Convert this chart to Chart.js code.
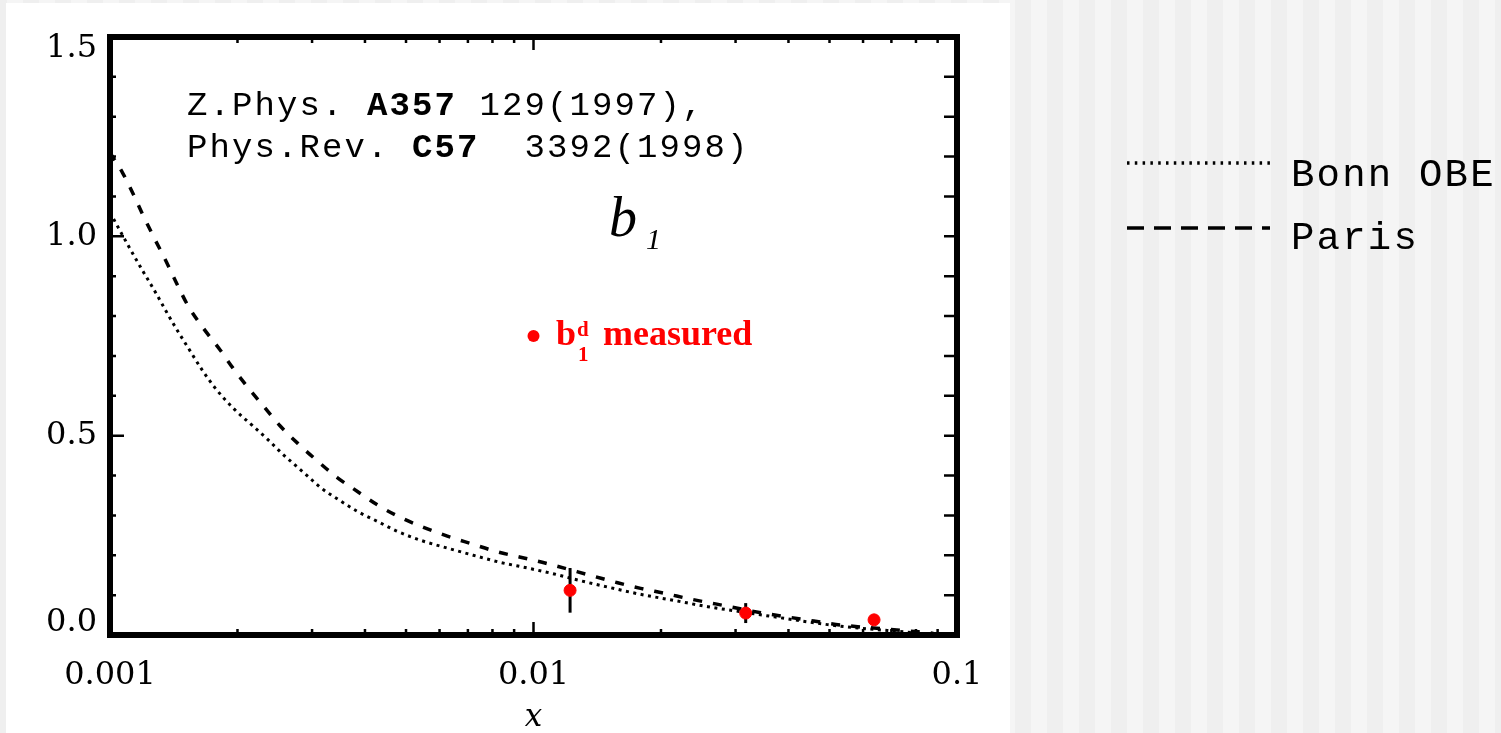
<!DOCTYPE html>
<html>
<head>
<meta charset="utf-8">
<title>b1 deuteron</title>
<script src="https://cdn.jsdelivr.net/npm/chart.js@4.4.1/dist/chart.umd.min.js"></script>
<style>
  html, body { margin: 0; padding: 0; }
  body {
    width: 1501px; height: 733px; overflow: hidden; position: relative;
    background: repeating-linear-gradient(90deg, #f5f5f5 0 16px, #efefef 16px 32px);
    background-position: 7px 0;
  }
  #panel { position: absolute; left: 6px; top: 3px; width: 1004px; height: 730px; background: #fff; }
  #plot { position: absolute; left: 0; top: 0; }
</style>
</head>
<body>
<div id="panel"></div>
<canvas id="plot" width="1501" height="733"></canvas>
<script>
// values (x is Bjorken x, log axis)
const bonnX = [0.001, 0.0011, 0.0012, 0.00128, 0.00136, 0.00144, 0.00152, 0.00165, 0.00177, 0.00195,
  0.00217, 0.00236, 0.00255, 0.00271, 0.00292, 0.00314, 0.00346, 0.00384, 0.00428, 0.00477,
  0.0054, 0.00626, 0.00721, 0.00836, 0.00968, 0.0112, 0.0127, 0.015, 0.0179, 0.0214,
  0.0258, 0.0297, 0.0384, 0.0495, 0.0593, 0.0766, 0.085];
const bonnY = [1.06, 0.98, 0.91, 0.86, 0.81, 0.765, 0.725, 0.665, 0.62, 0.57,
  0.525, 0.49, 0.455, 0.43, 0.40, 0.37, 0.34, 0.31, 0.285, 0.26,
  0.238, 0.218, 0.20, 0.182, 0.168, 0.153, 0.138, 0.12, 0.102, 0.087,
  0.071, 0.061, 0.043, 0.026, 0.017, 0.007, 0.003];

const parisX = [0.001, 0.00107, 0.00113, 0.0012, 0.00128, 0.00136, 0.00144, 0.00153, 0.00166, 0.00182,
  0.00195, 0.00212, 0.0023, 0.00252, 0.00278, 0.0031, 0.00344, 0.00384, 0.0043, 0.00485,
  0.0055, 0.00626, 0.00718, 0.00813, 0.00932, 0.0107, 0.0139, 0.0158, 0.0179, 0.0205,
  0.0235, 0.0269, 0.0344, 0.0399, 0.0459, 0.0532, 0.0698, 0.081, 0.088];
const parisY = [1.21, 1.16, 1.11, 1.05, 0.99, 0.935, 0.88, 0.825, 0.77, 0.715,
  0.67, 0.62, 0.575, 0.525, 0.48, 0.435, 0.395, 0.36, 0.325, 0.295,
  0.27, 0.248, 0.228, 0.21, 0.195, 0.18, 0.147, 0.131, 0.117, 0.104,
  0.09, 0.078, 0.056, 0.045, 0.035, 0.025, 0.014, 0.008, 0.004];

const measX = [0.0122, 0.0317, 0.0637];
const measY = [0.112, 0.055, 0.038];
const measErr = [0.056, 0.025, 0.008];

const xTicks = [0.001, 0.01, 0.1];
const xTickLabels = ['0.001', '0.01', '0.1'];
// top and bottom labels sit a little inside the frame, as in the original
const yTickLabels = [['0.0', ''], '0.5', '1.0', ['', '1.5']];

const seriesLabels = ['Bonn OBE', 'Paris'];
const RED = '#ff0000';

const toPoints = (xs, ys) => xs.map((v, i) => ({ x: v, y: ys[i] }));

// frame, inward ticks, error bars, annotations and the outside legend
const decorations = {
  id: 'decorations',
  beforeDatasetsDraw(chart) {
    const { ctx, scales: { x, y } } = chart;
    ctx.save();
    ctx.strokeStyle = '#000';
    ctx.lineWidth = 3;
    measX.forEach((v, i) => {
      const px = x.getPixelForValue(v);
      ctx.beginPath();
      ctx.moveTo(px, y.getPixelForValue(measY[i] + measErr[i]));
      ctx.lineTo(px, y.getPixelForValue(measY[i] - measErr[i]));
      ctx.stroke();
    });
    ctx.restore();
  },
  afterDraw(chart) {
    const { ctx, chartArea: a, scales: { x, y } } = chart;
    ctx.save();
    ctx.strokeStyle = '#000';
    ctx.lineWidth = 2.5;

    // x ticks, top and bottom
    [0.001, 0.01].forEach((d) => {
      for (let k = 1; k <= 9; k++) {
        const px = x.getPixelForValue(k * d);
        const len = k === 1 ? 13 : 6;
        ctx.beginPath();
        ctx.moveTo(px, a.bottom); ctx.lineTo(px, a.bottom - len);
        ctx.moveTo(px, a.top); ctx.lineTo(px, a.top + len);
        ctx.stroke();
      }
    });
    // y ticks, left and right
    for (let i = 0; i <= 15; i++) {
      const py = y.getPixelForValue(i / 10);
      const len = i % 5 === 0 ? 14 : 6;
      ctx.beginPath();
      ctx.moveTo(a.left, py); ctx.lineTo(a.left + len, py);
      ctx.moveTo(a.right, py); ctx.lineTo(a.right - 13, py);
      ctx.stroke();
    }
    // frame
    ctx.lineWidth = 6;
    ctx.strokeRect(a.left, a.top, a.right - a.left, a.bottom - a.top);

    // reference text
    ctx.fillStyle = '#000';
    ctx.textBaseline = 'alphabetic';
    ctx.textAlign = 'left';
    ctx.letterSpacing = '2.1px';
    const runs = (parts, x0, y0) => {
      let cx = x0;
      parts.forEach(([txt, bold]) => {
        ctx.font = (bold ? 'bold ' : '') + '34px "Liberation Mono", "Courier New", monospace';
        ctx.fillText(txt, cx, y0);
        cx += txt.length * 22.5;
      });
    };
    runs([['Z.Phys. ', false], ['A357', true], [' 129(1997),', false]], 187, 115);
    runs([['Phys.Rev. ', false], ['C57', true], ['  3392(1998)', false]], 187, 157);
    ctx.letterSpacing = '0px';

    // b_1 label
    ctx.font = 'italic 56px "Liberation Serif", serif';
    ctx.fillText('b', 609, 236);
    ctx.font = 'italic 30px "Liberation Serif", serif';
    ctx.fillText('1', 646, 249);

    // measured legend
    ctx.fillStyle = RED;
    ctx.beginPath();
    ctx.arc(533.5, 336, 6, 0, Math.PI * 2);
    ctx.fill();
    ctx.font = 'bold 36px "Liberation Serif", serif';
    ctx.fillText('b', 556, 345);
    ctx.font = 'bold 21px "Liberation Serif", serif';
    ctx.fillText('d', 577, 336);
    ctx.fillText('1', 578, 361);
    ctx.font = 'bold 36px "Liberation Serif", serif';
    ctx.fillText('measured', 603, 345);

    // legend outside the plot
    const legendDash = [[2.5, 5.3], [17, 10]];
    const legendY = [163, 228];
    const textY = [186, 249];
    ctx.fillStyle = '#000';
    ctx.lineWidth = 3.5;
    ctx.letterSpacing = '2.2px';
    ctx.font = '39px "Liberation Mono", "Courier New", monospace';
    seriesLabels.forEach((lab, i) => {
      ctx.setLineDash(legendDash[i]);
      ctx.beginPath();
      ctx.moveTo(1127, legendY[i]);
      ctx.lineTo(1270, legendY[i]);
      ctx.stroke();
      ctx.fillText(lab, 1291, textY[i]);
    });
    ctx.setLineDash([]);
    ctx.letterSpacing = '0px';
    ctx.restore();
  }
};

new Chart(document.getElementById('plot'), {
  type: 'scatter',
  data: {
    datasets: [
      {
        label: 'b1 measured',
        data: toPoints(measX, measY),
        backgroundColor: RED,
        borderColor: RED,
        pointRadius: 6,
        showLine: false,
      },
      {
        label: seriesLabels[0],
        data: toPoints(bonnX, bonnY),
        showLine: true,
        borderColor: '#000',
        borderWidth: 3,
        borderDash: [3, 4.5],
        pointRadius: 0,
        cubicInterpolationMode: 'monotone',
      },
      {
        label: seriesLabels[1],
        data: toPoints(parisX, parisY),
        showLine: true,
        borderColor: '#000',
        borderWidth: 3.5,
        borderDash: [9, 11],
        pointRadius: 0,
        cubicInterpolationMode: 'monotone',
      },
    ],
  },
  options: {
    responsive: false,
    animation: false,
    devicePixelRatio: 1,
    layout: { padding: { left: 0, top: 35, right: 544, bottom: 0 } },
    plugins: { legend: { display: false }, tooltip: { enabled: false } },
    scales: {
      x: {
        type: 'logarithmic',
        min: 0.001,
        max: 0.1,
        grid: { display: false, drawTicks: false },
        border: { display: false },
        afterBuildTicks: (scale) => { scale.ticks = xTicks.map((v) => ({ value: v })); },
        afterFit: (scale) => { scale.height = 98; },
        ticks: {
          autoSkip: false,
          maxRotation: 0,
          padding: 21,
          color: '#000',
          font: { family: '"DejaVu Serif", serif', size: 32 },
          callback: (v, i) => xTickLabels[i],
        },
        title: {
          display: true,
          text: 'x',
          color: '#000',
          padding: { top: 0, bottom: 0 },
          font: { family: '"DejaVu Serif", serif', size: 31, style: 'italic', lineHeight: 1 },
        },
      },
      y: {
        min: 0,
        max: 1.5,
        grid: { display: false, drawTicks: false },
        border: { display: false },
        afterFit: (scale) => { scale.width = 110; },
        ticks: {
          stepSize: 0.5,
          padding: 13,
          color: '#000',
          font: { family: '"DejaVu Serif", serif', size: 32, lineHeight: 0.75 },
          callback: (v, i) => yTickLabels[i],
        },
      },
    },
  },
  plugins: [decorations],
});
</script>
</body>
</html>
